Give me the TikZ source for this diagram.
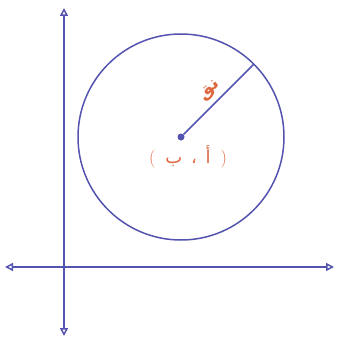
\documentclass[tikz,border=0pt]{standalone}
\usepackage{fontspec}
\newfontfamily\arabicfont[Script=Arabic]{DejaVu Sans}
\TeXXeTstate=1
\usetikzlibrary{arrows.meta}
\definecolor{axisblue}{RGB}{84,84,176}
\definecolor{labelred}{RGB}{222,104,64}

\begin{document}
\begin{tikzpicture}[
  x=1pt,y=-1pt,
  axis/.style={draw=axisblue,line width=1.5pt,
    {Triangle[open,length=8pt,width=8pt]}-{Triangle[open,length=8pt,width=8pt]}},
  ring/.style={circle,draw=axisblue,line width=1.5pt,minimum size=206pt,
    inner sep=0pt,outer sep=0pt},
  centre/.style={circle,fill=axisblue,inner sep=0pt,minimum size=7pt},
  radius/.style={draw=axisblue,line width=1.5pt},
  label/.style={text=labelred,font=\fontsize{18}{20}\selectfont}
]
  \useasboundingbox (0,0) rectangle (339,345);

  \coordinate (top) at (64,8);
  \coordinate (bottom) at (64,336);
  \coordinate (left) at (5,267);
  \coordinate (right) at (334,267);

  \node[ring] (circ) at (181,137) {};
  \node[centre] (ctr) at (181,137) {};
  \node[label] (point) at (188,157)
    {(\;\;{\arabicfont\beginR أ \,،\, ب\endR}\;\;)};

  \draw[axis] (bottom) -- (top);
  \draw[axis] (left) -- (right);
  \draw[radius] (ctr) -- node[label,pos=0.5,sloped,above=1pt]
    {\arabicfont\bfseries\beginR نق\endR} (circ.45);
\end{tikzpicture}
\end{document}
